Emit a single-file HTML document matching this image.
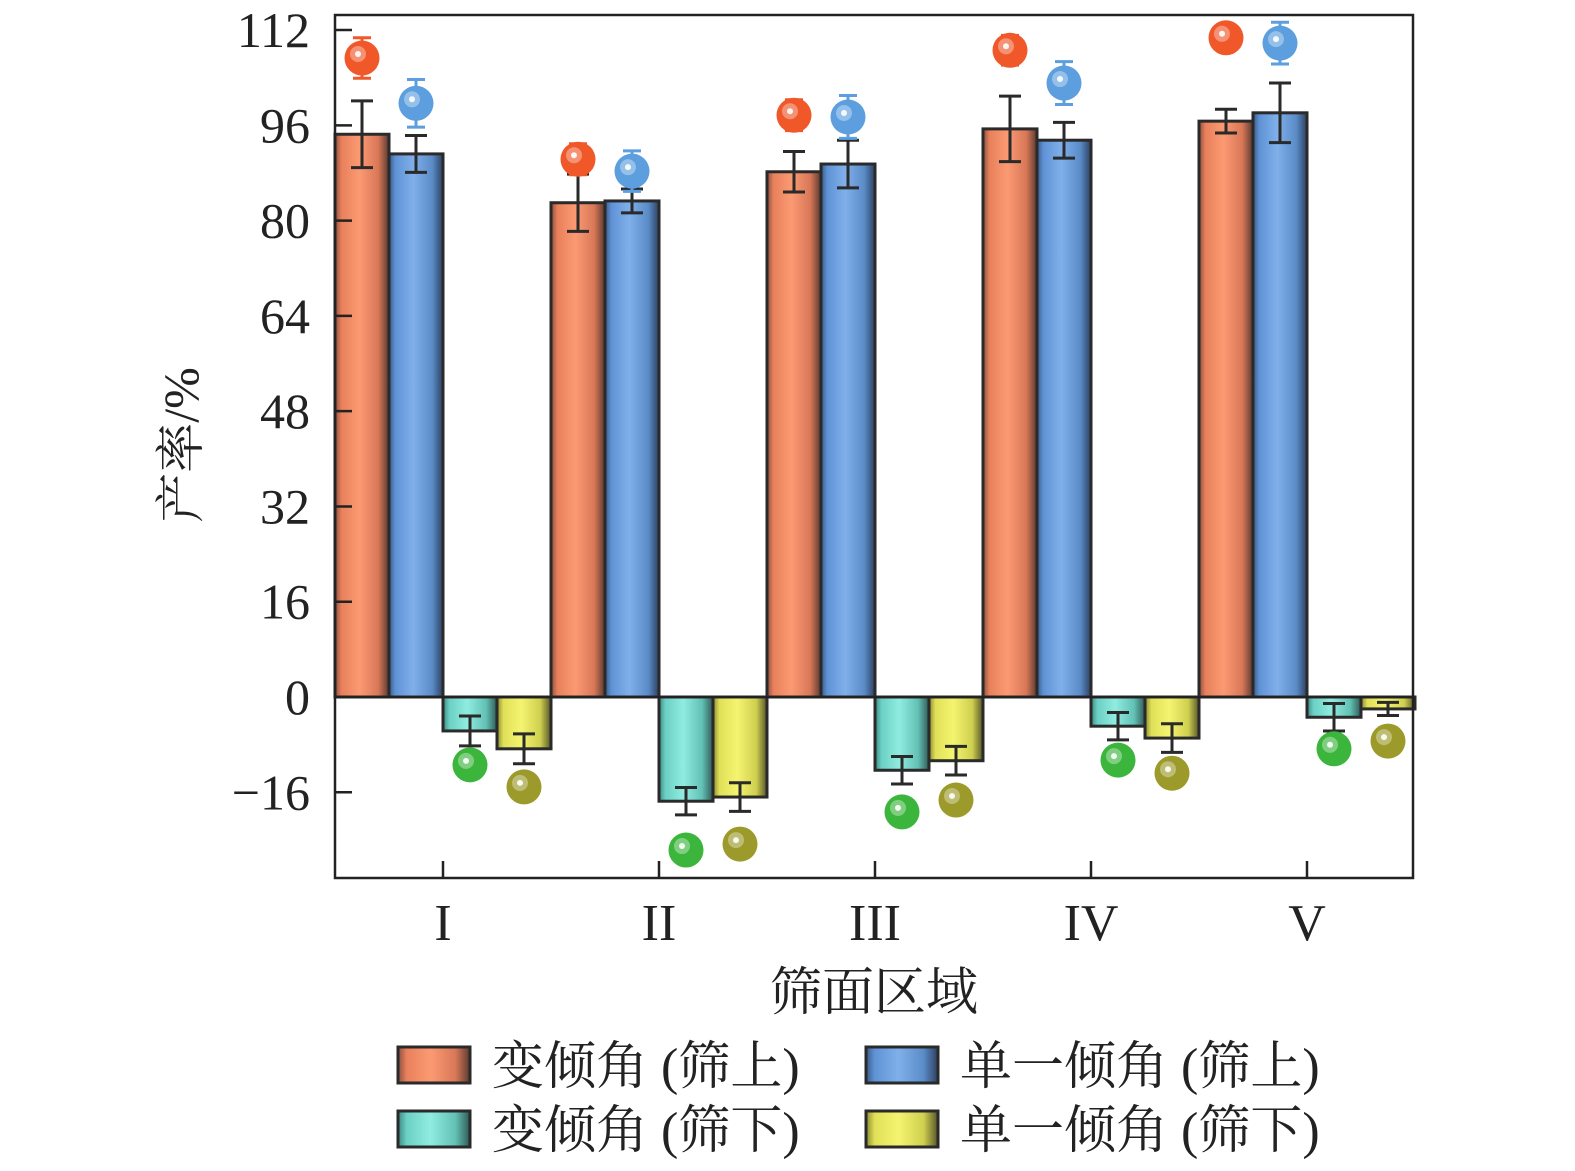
<!DOCTYPE html>
<html><head><meta charset="utf-8"><style>
body{margin:0;background:#fff}
svg{display:block}
text{font-family:"Liberation Serif","Noto Serif CJK SC",serif;fill:#222}
</style></head><body>
<svg id="chart" width="1575" height="1171" viewBox="0 0 1575 1171" xmlns="http://www.w3.org/2000/svg">
<defs>
<linearGradient id="gO" x1="0" x2="1"><stop offset="0" stop-color="#8a5040"/><stop offset="0.12" stop-color="#e8805c"/><stop offset="0.45" stop-color="#fb9a72"/><stop offset="0.8" stop-color="#d97858"/><stop offset="1" stop-color="#5a3a30"/></linearGradient>
<linearGradient id="gB" x1="0" x2="1"><stop offset="0" stop-color="#3a5a88"/><stop offset="0.12" stop-color="#5f93d6"/><stop offset="0.45" stop-color="#80b0ea"/><stop offset="0.8" stop-color="#5a8cc8"/><stop offset="1" stop-color="#2e4060"/></linearGradient>
<linearGradient id="gT" x1="0" x2="1"><stop offset="0" stop-color="#3a8a80"/><stop offset="0.12" stop-color="#6cd0c4"/><stop offset="0.45" stop-color="#90ece0"/><stop offset="0.8" stop-color="#62c0b4"/><stop offset="1" stop-color="#2e5a55"/></linearGradient>
<linearGradient id="gY" x1="0" x2="1"><stop offset="0" stop-color="#8a8a30"/><stop offset="0.12" stop-color="#e0e058"/><stop offset="0.45" stop-color="#f4f470"/><stop offset="0.8" stop-color="#d0d050"/><stop offset="1" stop-color="#55552a"/></linearGradient>
</defs>
<g id="plot"></g>
</svg>
<script>
const categories=["I","II","III","IV","V"];
const barOrange=[94.5,83,88.2,95.4,96.7];
const barOrangeErr=[5.6,4.8,3.4,5.5,2];
const barBlue=[91.2,83.3,89.5,93.5,98.1];
const barBlueErr=[3.1,2,4,3,5];
const barTeal=[-5.7,-17.5,-12.3,-4.9,-3.4];
const barTealErr=[2.5,2.3,2.3,2.3,2.3];
const barYellow=[-8.7,-16.8,-10.7,-6.9,-2];
const barYellowErr=[2.5,2.4,2.4,2.4,1.1];
const dotOrange=[107.3,90.3,97.7,108.6,110.7];
const dotOrangeErr=[3.4,2.6,2.6,2.5,1.5];
const dotBlue=[99.7,88.3,97.4,103.1,109.8];
const dotBlueErr=[4,3.4,3.6,3.6,3.5];
const dotTeal=[-11.4,-25.7,-19.3,-10.6,-8.7];
const dotTealErr=[1.5,1.5,1.5,1.5,1.2];
const dotYellow=[-15.1,-24.7,-17.3,-12.8,-7.4];
const dotYellowErr=[1.5,1.5,1.5,1.5,0.8];
const yTicks=[-16,0,16,32,48,64,80,96,112];

const NS="http://www.w3.org/2000/svg";
const g=document.getElementById('plot');
const L=335,R=1413,T=15,B=878;
const y=v=>697-v*5.955;
const cx=i=>443+i*216;
const BW=54;
function el(tag,attrs,parent){const e=document.createElementNS(NS,tag);for(const k in attrs)e.setAttribute(k,attrs[k]);(parent||g).appendChild(e);return e;}
function errbar(x,v,e,color,w){
  const a=el('path',{d:`M${x},${y(v+e)}V${y(v-e)}M${x-w},${y(v+e)}h${2*w}M${x-w},${y(v-e)}h${2*w}`,stroke:color,'stroke-width':3,fill:'none'});
  
  
}
const series=[
 {v:barOrange,e:barOrangeErr,d:dotOrange,de:dotOrangeErr,g:'url(#gO)',dc:'#f0582a',n:'orange'},
 {v:barBlue,e:barBlueErr,d:dotBlue,de:dotBlueErr,g:'url(#gB)',dc:'#5c9ede',n:'blue'},
 {v:barTeal,e:barTealErr,d:dotTeal,de:dotTealErr,g:'url(#gT)',dc:'#3cb53c',n:'teal'},
 {v:barYellow,e:barYellowErr,d:dotYellow,de:dotYellowErr,g:'url(#gY)',dc:'#9c9a2a',n:'yellow'}];
categories.forEach((c,i)=>{
  series.forEach((s,j)=>{
    const x0=cx(i)-108+j*BW, xm=x0+BW/2, v=s.v[i];
    const r=el('rect',{x:x0,y:Math.min(y(v),y(0)),width:BW,height:Math.abs(y(v)-y(0)),fill:s.g,stroke:'#2a2a2a','stroke-width':3});
    
    
    errbar(xm,v,s.e[i],'#2a2a2a',11);
  });
});
categories.forEach((c,i)=>{
  series.forEach((s,j)=>{
    const xm=cx(i)-108+j*BW+BW/2, v=s.d[i];
    errbar(xm,v,s.de[i],s.dc,9);
    const d=el('circle',{cx:xm,cy:y(v),r:17.5,fill:s.dc});
    
    
    el('circle',{cx:xm-4,cy:y(v)-4,r:8,fill:'#fff',opacity:0.35});
    el('circle',{cx:xm-4,cy:y(v)-4,r:3,fill:'#fff',opacity:0.9});
  });
});
const fr=el('rect',{x:L,y:T,width:R-L,height:B-T,fill:'none',stroke:'#222','stroke-width':2.5});


el('line',{x1:L,x2:R,y1:y(0),y2:y(0),stroke:'#222','stroke-width':2});
yTicks.forEach(t=>{
  el('line',{x1:L,x2:L+17,y1:y(t),y2:y(t),stroke:'#222','stroke-width':2.5});
  const tx=el('text',{x:310,y:y(t)+17,'text-anchor':'end','font-size':50});
  tx.textContent=(t<0?'\u2212'+(-t):t);
  
  
});
categories.forEach((c,i)=>{
  el('line',{x1:cx(i),x2:cx(i),y1:B,y2:B-17,stroke:'#222','stroke-width':2.5});
  const tx=el('text',{x:cx(i),y:940,'text-anchor':'middle','font-size':52});
  tx.textContent=c;
  
  
});
const xt=el('text',{x:874,y:1010,'text-anchor':'middle','font-size':52});
xt.textContent='筛面区域';


const yt=el('text',{x:0,y:0,'text-anchor':'middle','font-size':50,transform:'translate(198,445) rotate(-90)'});
yt.textContent='产率/%';


const legend=[['url(#gO)','变倾角 (筛上)',398,1066],['url(#gB)','单一倾角 (筛上)',866,1066],['url(#gT)','变倾角 (筛下)',398,1130],['url(#gY)','单一倾角 (筛下)',866,1130]];
legend.forEach(l=>{
  const r=el('rect',{x:l[2],y:l[3]-19,width:72,height:36,fill:l[0],stroke:'#2a2a2a','stroke-width':3});
  
  
  const t=el('text',{x:l[2]+94,y:l[3]+18,'font-size':52});
  t.textContent=l[1];
  
  
});
</script>
</body></html>
